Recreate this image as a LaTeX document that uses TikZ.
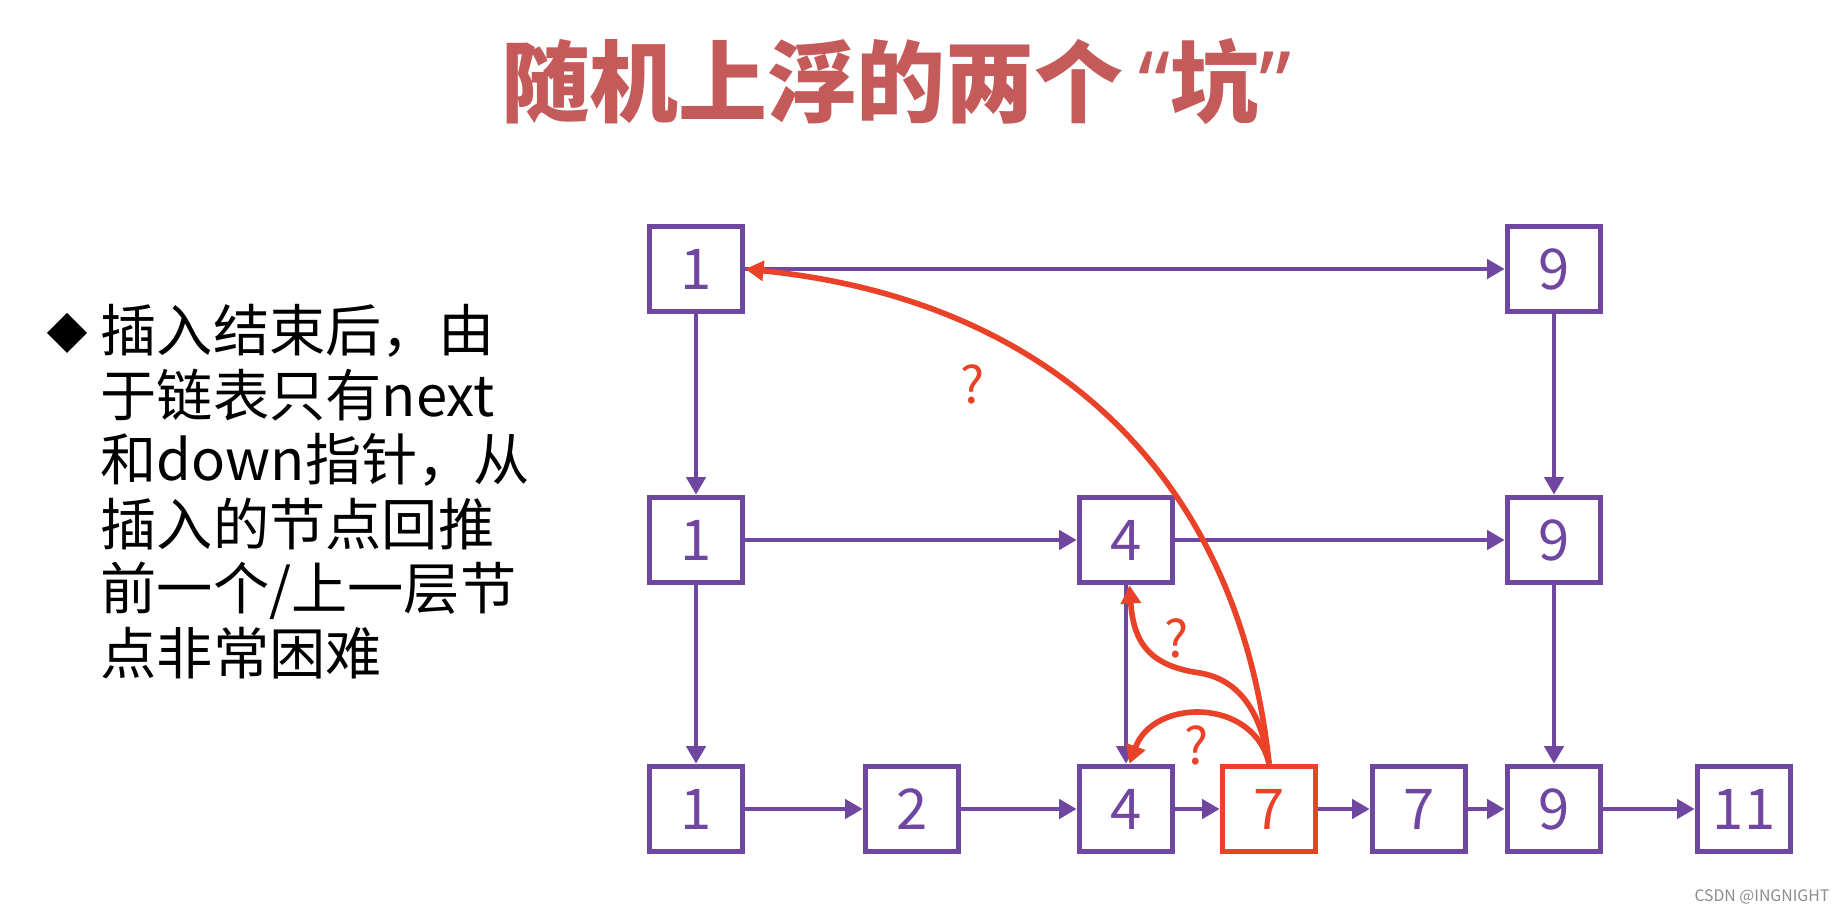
\documentclass[tikz,border=0pt]{standalone}
\usepackage{fontspec}
\setmainfont{Noto Sans CJK SC}
\newfontfamily\quotefont{Noto Sans}
\usetikzlibrary{arrows.meta}
\definecolor{lkpurple}{RGB}{112,71,160}
\definecolor{lkred}{RGB}{233,66,40}
\definecolor{ttlred}{RGB}{197,90,90}
\begin{document}
\begin{tikzpicture}[cell/.style={draw=lkpurple,line width=1.6pt,text=lkpurple,minimum width=0.93cm,minimum height=0.85cm,inner sep=0pt,font=\fontsize{16}{16}\selectfont},
  nxt/.style={lkpurple,line width=1.35pt,-{Triangle[length=5pt,width=5.4pt]}},
  ask/.style={lkred,line width=1.6pt,-{Triangle[length=5.2pt,width=5.6pt]}},
  qm/.style={text=lkred,font=\fontsize{14.5}{14.5}\selectfont}]
\fill[white] (0,0) rectangle (18.4,-9.16);
\useasboundingbox (0,0) rectangle (18.4,-9.16);
\node[text=ttlred,font=\fontsize{25.3}{30}\selectfont\bfseries] (title) at (8.96,-0.82) {随机上浮的两个\,{\quotefont“}坑{\quotefont”}};
\fill (0.47,-3.33) -- (0.67,-3.13) -- (0.87,-3.33) -- (0.67,-3.53) -- cycle;
\node[anchor=north west,align=left,inner sep=0pt,font=\fontsize{16}{18.35}\selectfont] (txt) at (1.0,-3.04) {插入结束后，由\\于链表只有next\\和down指针，从\\插入的节点回推\\前一个/上一层节\\点非常困难};
\node[cell] (t1) at (6.96,-2.69) {1};
\node[cell] (t9) at (15.54,-2.69) {9};
\node[cell] (m1) at (6.96,-5.40) {1};
\node[cell] (m4) at (11.26,-5.40) {4};
\node[cell] (m9) at (15.54,-5.40) {9};
\node[cell] (b1) at (6.96,-8.09) {1};
\node[cell] (b2) at (9.12,-8.09) {2};
\node[cell] (b4) at (11.26,-8.09) {4};
\node[cell,draw=lkred,text=lkred] (new) at (12.69,-8.09) {7};
\node[cell] (b7) at (14.19,-8.09) {7};
\node[cell] (b9) at (15.54,-8.09) {9};
\node[cell] (b11) at (17.44,-8.09) {11};
\draw[nxt] (t1) -- (t9);
\draw[nxt] (m1) -- (m4);
\draw[nxt] (m4) -- (m9);
\draw[nxt] (b1) -- (b2);
\draw[nxt] (b2) -- (b4);
\draw[nxt] (b4) -- (new);
\draw[nxt] (new) -- (b7);
\draw[nxt] (b7) -- (b9);
\draw[nxt] (b9) -- (b11);
\draw[nxt] (t1) -- (m1);
\draw[nxt] (m1) -- (b1);
\draw[nxt] (t9) -- (m9);
\draw[nxt] (m9) -- (b9);
\draw[nxt] (m4) -- (b4);
\draw[ask] (new.north) .. controls +(-0.30,2.86) and +(3.07,-0.31) .. (t1.east);
\draw[ask] (new.north) .. controls +(-0.15,0.66) and +(0.24,0.66) .. ([xshift=1pt]b4.north);
\draw[ask] (new.north) .. controls +(-0.08,0.51) and +(0.40,-0.07) .. (12.00,-6.73) .. controls +(-0.50,0.07) and +(0.04,-0.58) .. ([xshift=1pt]m4.south);
\node[qm] (q1) at (9.73,-3.84) {?};
\node[qm] (q2) at (11.77,-6.38) {?};
\node[qm] (q3) at (11.97,-7.45) {?};
\node[anchor=east,inner sep=0pt,text=black!45,font=\fontsize{4.5}{5}\selectfont] (mark) at (18.3,-8.97) {CSDN @INGNIGHT};
\end{tikzpicture}
\end{document}
